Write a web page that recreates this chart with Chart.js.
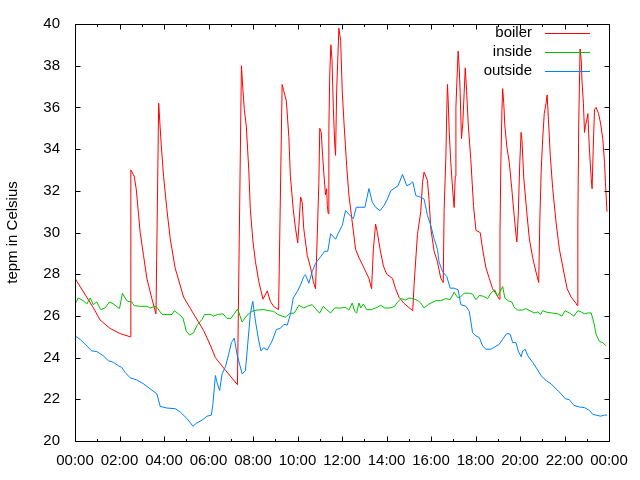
<!DOCTYPE html>
<html>
<head>
<meta charset="utf-8">
<script src="https://cdn.jsdelivr.net/npm/chart.js@4"></script>
<style>
  body { margin: 0; background: #fff; }
  #chart { display: block; }
</style>
</head>
<body>
<canvas id="chart" width="640" height="480"></canvas>
<script>
// hours since midnight, temperatures in Celsius
const boilerHours = [0.00, 0.82, 1.13, 1.58, 2.03, 2.48, 2.51, 2.66, 2.75, 2.93, 3.08, 3.23, 3.45, 3.64, 3.76, 3.87, 3.98, 4.13, 4.28, 4.50, 4.88, 5.33, 5.78, 6.08, 6.31, 6.68, 7.30, 7.48, 7.55, 7.61, 7.70, 7.81, 7.88, 8.00, 8.11, 8.26, 8.45, 8.64, 8.78, 8.93, 9.15, 9.31, 9.38, 9.50, 9.61, 9.68, 9.81, 9.91, 10.01, 10.06, 10.14, 10.21, 10.28, 10.44, 10.59, 10.71, 10.81, 10.89, 10.96, 11.00, 11.07, 11.11, 11.18, 11.26, 11.31, 11.34, 11.38, 11.41, 11.45, 11.50, 11.55, 11.61, 11.67, 11.71, 11.76, 11.82, 11.86, 11.94, 12.01, 12.09, 12.21, 12.31, 12.46, 12.61, 12.76, 12.99, 13.21, 13.33, 13.41, 13.51, 13.59, 13.71, 13.86, 14.01, 14.27, 14.41, 14.56, 14.79, 15.01, 15.18, 15.24, 15.39, 15.54, 15.62, 15.69, 15.84, 15.91, 15.99, 16.14, 16.29, 16.44, 16.55, 16.59, 16.67, 16.71, 16.74, 16.77, 16.82, 16.89, 16.97, 17.04, 17.09, 17.12, 17.16, 17.22, 17.27, 17.31, 17.37, 17.43, 17.49, 17.54, 17.60, 17.67, 17.79, 17.91, 18.02, 18.21, 18.32, 18.47, 18.62, 18.77, 18.96, 19.07, 19.10, 19.14, 19.19, 19.22, 19.27, 19.32, 19.41, 19.52, 19.63, 19.74, 19.82, 19.86, 19.92, 19.99, 20.05, 20.09, 20.17, 20.32, 20.42, 20.57, 20.72, 20.84, 20.89, 20.95, 21.02, 21.09, 21.17, 21.22, 21.28, 21.36, 21.47, 21.62, 21.77, 21.97, 22.12, 22.30, 22.52, 22.57, 22.60, 22.64, 22.70, 22.75, 22.79, 22.85, 22.90, 22.94, 23.00, 23.05, 23.12, 23.20, 23.24, 23.29, 23.35, 23.42, 23.53, 23.62, 23.72, 23.80, 23.84, 23.91];
const boilerTemps = [27.8, 26.4, 25.8, 25.4, 25.15, 25.0, 33.0, 32.7, 32.1, 30.0, 28.9, 27.8, 26.85, 26.1, 36.2, 34.3, 32.7, 31.1, 29.7, 28.3, 26.9, 26.1, 25.3, 24.6, 24.0, 23.5, 22.7, 38.0, 36.8, 35.9, 35.1, 33.0, 31.1, 29.55, 28.6, 27.65, 26.8, 27.2, 26.7, 26.45, 26.3, 37.1, 36.8, 36.3, 34.6, 32.7, 31.1, 30.2, 29.5, 30.3, 31.7, 31.45, 30.2, 28.9, 28.3, 27.65, 27.3, 29.9, 32.4, 35.0, 34.8, 34.0, 32.9, 31.8, 32.1, 31.3, 30.9, 34.9, 37.6, 39.0, 38.3, 36.0, 34.3, 33.7, 36.8, 38.6, 39.8, 39.2, 36.8, 35.25, 33.2, 31.8, 30.5, 29.2, 28.8, 28.3, 27.8, 27.3, 29.2, 30.4, 30.0, 29.2, 28.4, 28.0, 27.8, 27.3, 26.9, 26.6, 26.4, 26.25, 27.5, 29.9, 31.0, 32.4, 32.9, 32.5, 31.6, 30.2, 29.1, 28.6, 27.8, 27.6, 31.1, 33.7, 35.9, 37.1, 36.4, 34.8, 33.35, 32.1, 31.2, 32.7, 36.0, 37.15, 38.7, 37.9, 36.7, 34.5, 35.25, 36.7, 37.9, 36.8, 35.25, 33.5, 31.3, 30.1, 30.0, 29.2, 28.3, 27.8, 27.3, 27.0, 26.8, 29.9, 33.35, 35.9, 36.9, 36.2, 35.1, 34.1, 33.35, 32.1, 30.8, 29.9, 29.55, 30.8, 33.35, 34.8, 34.4, 32.6, 30.8, 29.7, 28.8, 28.1, 27.6, 30.5, 32.9, 34.5, 35.7, 36.2, 36.6, 35.4, 33.7, 32.1, 30.5, 29.2, 28.1, 27.3, 26.9, 26.6, 26.5, 30.5, 35.25, 38.8, 38.3, 37.2, 36.2, 34.8, 35.1, 35.4, 35.7, 34.0, 32.6, 32.1, 34.0, 35.9, 36.0, 35.7, 35.25, 34.5, 33.35, 32.4, 31.0];

const insideHours = [0.00, 0.15, 0.37, 0.53, 0.68, 0.82, 0.98, 1.16, 1.35, 1.55, 1.73, 2.00, 2.13, 2.25, 2.36, 2.55, 2.66, 2.93, 3.23, 3.38, 3.60, 3.68, 3.91, 4.13, 4.36, 4.46, 4.65, 4.85, 5.00, 5.15, 5.33, 5.51, 5.71, 5.82, 6.11, 6.23, 6.41, 6.65, 6.83, 7.01, 7.13, 7.31, 7.51, 7.73, 7.96, 8.18, 8.48, 8.71, 8.93, 9.11, 9.31, 9.46, 9.65, 9.86, 10.06, 10.28, 10.44, 10.66, 10.81, 10.99, 11.16, 11.31, 11.49, 11.67, 11.94, 12.16, 12.31, 12.46, 12.57, 12.66, 12.76, 12.84, 12.96, 13.11, 13.32, 13.51, 13.74, 13.92, 14.16, 14.37, 14.52, 14.67, 14.86, 15.01, 15.21, 15.42, 15.54, 15.69, 15.91, 16.22, 16.44, 16.67, 16.86, 17.04, 17.19, 17.31, 17.49, 17.72, 17.87, 18.02, 18.17, 18.36, 18.55, 18.69, 18.87, 18.99, 19.11, 19.22, 19.32, 19.47, 19.63, 19.74, 19.90, 20.12, 20.27, 20.50, 20.64, 20.80, 20.92, 21.02, 21.22, 21.43, 21.70, 21.88, 22.03, 22.22, 22.42, 22.60, 22.75, 22.90, 23.05, 23.20, 23.32, 23.42, 23.57, 23.72, 23.87];
const insideTemps = [26.57, 26.86, 26.73, 26.57, 26.86, 26.54, 26.67, 26.3, 26.38, 26.67, 26.57, 26.35, 27.09, 26.86, 26.7, 26.67, 26.49, 26.46, 26.46, 26.38, 26.46, 26.41, 26.07, 26.07, 26.07, 26.25, 26.1, 25.91, 25.27, 25.08, 25.19, 25.59, 25.83, 26.07, 26.07, 25.99, 26.07, 26.1, 25.88, 25.88, 26.07, 26.33, 25.71, 26.03, 26.22, 26.28, 26.3, 26.25, 26.22, 26.07, 25.99, 25.94, 26.11, 26.14, 26.51, 26.38, 26.46, 26.54, 26.35, 26.13, 26.46, 26.3, 26.14, 26.38, 26.38, 26.41, 26.28, 26.62, 26.22, 26.14, 26.62, 26.38, 26.57, 26.3, 26.3, 26.38, 26.51, 26.38, 26.38, 26.46, 26.7, 26.83, 26.76, 26.86, 26.83, 26.73, 26.62, 26.38, 26.57, 26.73, 26.73, 26.83, 26.78, 27.14, 26.89, 26.89, 27.09, 27.09, 27.04, 26.78, 26.98, 26.94, 26.83, 27.09, 27.25, 26.94, 27.17, 27.41, 26.86, 26.73, 26.67, 26.41, 26.28, 26.28, 26.35, 26.22, 26.14, 26.19, 26.07, 26.25, 26.17, 26.14, 26.1, 25.99, 26.25, 26.14, 25.99, 26.25, 26.19, 26.1, 26.14, 26.14, 25.67, 25.12, 24.77, 24.72, 24.56];

const outsideHours = [0.00, 0.23, 0.53, 0.75, 0.98, 1.27, 1.50, 1.73, 1.95, 2.10, 2.25, 2.48, 2.78, 3.08, 3.38, 3.68, 3.83, 4.13, 4.50, 4.73, 5.03, 5.30, 5.48, 5.71, 5.93, 6.13, 6.20, 6.31, 6.38, 6.50, 6.61, 6.76, 6.91, 7.03, 7.16, 7.28, 7.51, 7.66, 7.76, 7.88, 7.99, 8.11, 8.26, 8.36, 8.48, 8.64, 8.86, 9.05, 9.23, 9.38, 9.54, 9.68, 9.81, 9.99, 10.14, 10.28, 10.36, 10.51, 10.66, 10.81, 11.04, 11.22, 11.36, 11.49, 11.71, 11.86, 12.01, 12.16, 12.36, 12.51, 12.64, 13.03, 13.21, 13.36, 13.51, 13.71, 13.89, 14.04, 14.19, 14.34, 14.52, 14.72, 14.91, 15.06, 15.18, 15.32, 15.54, 15.69, 15.84, 15.99, 16.14, 16.29, 16.36, 16.52, 16.71, 16.86, 17.04, 17.22, 17.34, 17.57, 17.72, 17.87, 18.02, 18.17, 18.32, 18.47, 18.69, 18.87, 19.07, 19.22, 19.41, 19.56, 19.67, 19.82, 19.92, 20.05, 20.12, 20.23, 20.35, 20.57, 20.77, 20.95, 21.17, 21.40, 21.62, 21.85, 22.03, 22.22, 22.42, 22.67, 22.90, 23.12, 23.27, 23.42, 23.62, 23.80, 23.91];
const outsideTemps = [25.04, 24.88, 24.56, 24.32, 24.29, 24.09, 23.85, 23.77, 23.61, 23.53, 23.29, 23.03, 22.93, 22.74, 22.5, 22.26, 21.66, 21.58, 21.55, 21.39, 21.08, 20.71, 20.87, 21.0, 21.19, 21.24, 21.79, 23.14, 22.82, 22.42, 23.22, 23.56, 24.17, 24.72, 24.93, 24.17, 23.22, 23.37, 24.6, 26.1, 26.7, 25.75, 24.8, 24.32, 24.48, 24.36, 24.8, 25.35, 25.4, 25.59, 25.56, 26.07, 26.86, 27.17, 27.49, 27.89, 27.97, 27.57, 28.12, 28.52, 28.84, 29.1, 29.1, 29.94, 29.68, 30.02, 30.34, 31.05, 30.82, 30.66, 31.21, 31.21, 32.11, 31.45, 31.21, 31.05, 31.29, 31.6, 32.0, 32.11, 32.24, 32.79, 32.24, 32.32, 32.43, 31.77, 31.69, 31.6, 30.82, 30.34, 29.7, 29.2, 28.6, 28.12, 27.89, 27.33, 27.33, 27.25, 26.54, 26.46, 26.22, 25.19, 25.04, 24.96, 24.56, 24.4, 24.4, 24.51, 24.64, 24.88, 25.16, 25.12, 24.72, 24.72, 24.32, 24.04, 24.32, 24.4, 24.09, 23.77, 23.45, 23.13, 22.9, 22.74, 22.5, 22.26, 22.03, 21.98, 21.71, 21.63, 21.6, 21.47, 21.28, 21.24, 21.19, 21.24, 21.24];

const seriesNames = ["boiler", "inside", "outside"];
const seriesColors = ["#ff0000", "#00c000", "#0080ff"];

const FONT = "'Liberation Sans', Arial, sans-serif";

function toPoints(hours, temps) {
  return hours.map((h, i) => ({ x: h, y: temps[i] }));
}

function hourLabel(h) {
  const hh = Math.round(h) % 24;
  return (hh < 10 ? "0" : "") + hh + ":00";
}

// gnuplot style border, inward ticks and legend
const framePlugin = {
  id: "frame",
  afterDatasetsDraw(chart) {
    const ctx = chart.ctx;
    const area = chart.chartArea;
    const xs = chart.scales.x;
    const ys = chart.scales.y;
    const l = Math.round(area.left) + 0.5;
    const r = Math.round(area.right) + 0.5;
    const t = Math.round(area.top) + 0.5;
    const b = Math.round(area.bottom) + 0.5;

    ctx.save();
    ctx.strokeStyle = "#000";
    ctx.lineWidth = 1;
    ctx.beginPath();
    ys.ticks.forEach((tick) => {
      const py = Math.round(ys.getPixelForValue(tick.value)) + 0.5;
      ctx.moveTo(l, py);
      ctx.lineTo(l + 5, py);
      ctx.moveTo(r, py);
      ctx.lineTo(r - 5, py);
    });
    for (let h = 0; h <= 24; h++) {
      const px = Math.round(xs.getPixelForValue(h)) + 0.5;
      const len = h % 2 === 0 ? 5 : 2.5;
      ctx.moveTo(px, b);
      ctx.lineTo(px, b - len);
      ctx.moveTo(px, t);
      ctx.lineTo(px, t + len);
    }
    ctx.stroke();
    ctx.strokeRect(l, t, r - l, b - t);

    ctx.font = "15px " + FONT;
    ctx.textAlign = "right";
    ctx.textBaseline = "middle";
    seriesNames.forEach((name, i) => {
      const rowY = 33 + i * 19;
      ctx.fillStyle = "#000";
      ctx.fillText(name, 532, rowY);
      ctx.strokeStyle = seriesColors[i];
      ctx.beginPath();
      ctx.moveTo(545, rowY + 0.5);
      ctx.lineTo(590, rowY + 0.5);
      ctx.stroke();
    });
    ctx.restore();
  },
};

new Chart(document.getElementById("chart"), {
  type: "line",
  data: {
    datasets: [
      {
        label: seriesNames[0],
        data: toPoints(boilerHours, boilerTemps),
        borderColor: seriesColors[0],
        order: 2,
      },
      {
        label: seriesNames[1],
        data: toPoints(insideHours, insideTemps),
        borderColor: seriesColors[1],
        order: 1,
      },
      {
        label: seriesNames[2],
        data: toPoints(outsideHours, outsideTemps),
        borderColor: seriesColors[2],
        order: 0,
      },
    ],
  },
  options: {
    responsive: false,
    animation: false,
    layout: { padding: { top: 20, right: 31, left: 0, bottom: 0 } },
    elements: {
      point: { radius: 0 },
      line: { borderWidth: 1, tension: 0, fill: false },
    },
    plugins: {
      legend: { display: false },
      tooltip: { enabled: false },
    },
    scales: {
      x: {
        type: "linear",
        min: 0,
        max: 24,
        afterFit: (scale) => { scale.height = 39; },
        grid: { display: false, drawTicks: false },
        border: { display: false },
        ticks: {
          stepSize: 2,
          padding: 11,
          maxRotation: 0,
          autoSkip: false,
          color: "#000",
          font: { family: FONT, size: 15 },
          callback: (v) => hourLabel(v),
        },
      },
      y: {
        min: 20,
        max: 40,
        afterFit: (scale) => { scale.width = 75; },
        grid: { display: false, drawTicks: false },
        border: { display: false },
        ticks: {
          stepSize: 2,
          padding: 15,
          color: "#000",
          font: { family: FONT, size: 15 },
        },
        title: {
          display: true,
          text: "tepm in Celsius",
          color: "#000",
          font: { family: FONT, size: 15 },
          padding: { top: 4, bottom: 0 },
        },
      },
    },
  },
  plugins: [framePlugin],
});
</script>
</body>
</html>
